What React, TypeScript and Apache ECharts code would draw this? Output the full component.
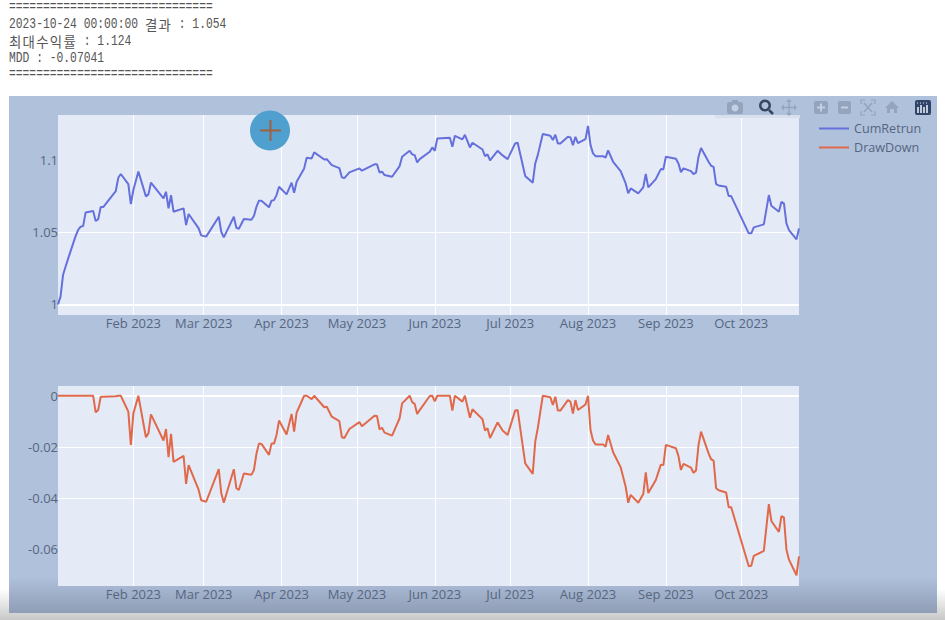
import React, { useEffect, useRef } from "react";
import * as echarts from "echarts";

const dates = ["01-02","01-03","01-04","01-05","01-06","01-09","01-10","01-11","01-12","01-13","01-16","01-17","01-18","01-19","01-20","01-25","01-26","01-27","01-30","01-31","02-01","02-03","02-06","02-07","02-08","02-13","02-14","02-15","02-16","02-17","02-21","02-22","02-23","02-27","02-28","03-02","03-07","03-08","03-09","03-13","03-14","03-15","03-17","03-20","03-21","03-22","03-23","03-24","03-27","03-28","03-29","03-30","03-31","04-03","04-05","04-06","04-07","04-10","04-11","04-13","04-14","04-18","04-19","04-21","04-24","04-25","04-26","04-28","05-02","05-03","05-08","05-09","05-10","05-11","05-12","05-15","05-18","05-19","05-22","05-23","05-24","05-25","05-26","05-30","05-31","06-01","06-02","06-07","06-08","06-09","06-12","06-13","06-15","06-16","06-20","06-21","06-22","06-23","06-26","06-28","06-30","07-03","07-04","07-07","07-10","07-11","07-12","07-14","07-17","07-18","07-19","07-20","07-21","07-24","07-25","07-26","07-27","07-28","07-31","08-01","08-02","08-03","08-04","08-07","08-08","08-09","08-11","08-14","08-16","08-17","08-18","08-21","08-23","08-24","08-25","08-28","08-30","08-31","09-01","09-05","09-06","09-07","09-08","09-11","09-12","09-13","09-14","09-15","09-18","09-19","09-20","09-21","09-22","09-25","09-26","09-27","10-04","10-05","10-06","10-10","10-12","10-13","10-16","10-17","10-18","10-19","10-20","10-23","10-24"];

const cumReturn = [1.0,1.0053,1.0203,1.026,1.0315,1.0473,1.0515,1.0538,1.0542,1.0637,1.0646,1.0577,1.059,1.0674,1.0674,1.0785,1.0877,1.0903,1.0833,1.0695,1.0792,1.0921,1.0748,1.0762,1.0843,1.0734,1.078,1.0665,1.0757,1.0642,1.0665,1.0549,1.0626,1.0526,1.0478,1.0469,1.0607,1.0503,1.0464,1.0607,1.0531,1.0524,1.0591,1.0586,1.0612,1.0676,1.0718,1.0718,1.0672,1.0718,1.0722,1.0757,1.0815,1.0762,1.0843,1.0773,1.0849,1.0942,1.1016,1.1011,1.1053,1.1004,1.1006,1.0965,1.0944,1.088,1.0875,1.0914,1.0942,1.0926,1.097,1.097,1.0914,1.0919,1.0896,1.0884,1.0958,1.1023,1.1064,1.1039,1.1034,1.0983,1.1006,1.1057,1.1087,1.1064,1.115,1.1154,1.1092,1.1168,1.1143,1.1175,1.1087,1.112,1.1073,1.1027,1.1039,1.0997,1.1064,1.1032,1.1006,1.1115,1.112,1.0889,1.0843,1.0976,1.1034,1.118,1.1168,1.1138,1.1175,1.1115,1.1115,1.1161,1.1157,1.1103,1.1161,1.1117,1.1145,1.1237,1.1103,1.1046,1.1027,1.1027,1.1016,1.1067,1.0988,1.0923,1.0838,1.0769,1.0803,1.0769,1.081,1.0903,1.081,1.0868,1.0937,1.0935,1.1023,1.1009,1.0976,1.0916,1.0942,1.0923,1.0903,1.0912,1.1023,1.1083,1.0988,1.096,1.0953,1.0833,1.0824,1.0815,1.075,1.075,1.0492,1.0492,1.0533,1.0554,1.0757,1.0683,1.0642,1.0709,1.07,1.0561,1.0515,1.045,1.0526];

const drawDown = [0,0,0,0,0,0,0,0,0,0,0,-0.0065,-0.0056,-0.0004,-0.0004,-0.0002,0,0,-0.0062,-0.0192,-0.0069,0,-0.0162,-0.0147,-0.0073,-0.0175,-0.013,-0.024,-0.0149,-0.0258,-0.0235,-0.0344,-0.0271,-0.0368,-0.0408,-0.0414,-0.0287,-0.038,-0.0418,-0.0287,-0.0361,-0.0368,-0.0304,-0.0309,-0.029,-0.0227,-0.0187,-0.0188,-0.0231,-0.0187,-0.0187,-0.0153,-0.0097,-0.0151,-0.0071,-0.014,-0.0066,0,0,-0.0013,0,-0.0045,-0.0043,-0.0082,-0.0099,-0.0162,-0.0165,-0.013,-0.0103,-0.0119,-0.0078,-0.0079,-0.0131,-0.0125,-0.0144,-0.0156,-0.0088,-0.003,0,-0.0025,-0.0032,-0.0071,-0.0056,-0.0001,0,-0.0022,0,0,-0.0058,0,-0.0023,0,-0.0086,-0.0053,-0.0092,-0.0136,-0.0127,-0.0165,-0.0104,-0.0136,-0.0153,-0.0058,-0.0056,-0.0264,-0.0305,-0.0179,-0.0127,0,-0.0006,-0.0036,-0.0004,-0.0058,-0.0058,-0.0017,-0.0023,-0.007,-0.0017,-0.0056,-0.0034,0,-0.0134,-0.0175,-0.019,-0.019,-0.0199,-0.0153,-0.0221,-0.0279,-0.0355,-0.0418,-0.0387,-0.0418,-0.0384,-0.0299,-0.038,-0.0329,-0.0269,-0.0271,-0.0192,-0.0205,-0.0235,-0.029,-0.0266,-0.0281,-0.0301,-0.0292,-0.0192,-0.014,-0.0225,-0.0248,-0.0253,-0.0361,-0.0369,-0.0378,-0.0435,-0.0435,-0.0666,-0.0664,-0.0625,-0.0606,-0.0423,-0.0489,-0.0532,-0.047,-0.0475,-0.0601,-0.064,-0.0701,-0.0627];

const tickMonths = ["02-01","03-01","04-01","05-01","06-01","07-01","08-01","09-01","10-01"];
const tickLabels = ["Feb 2023","Mar 2023","Apr 2023","May 2023","Jun 2023","Jul 2023","Aug 2023","Sep 2023","Oct 2023"];
const returnTicks = [1, 1.05, 1.1];
const returnTickLabels = ["1", "1.05", "1.1"];
const drawDownTicks = [0, -0.02, -0.04, -0.06];
const drawDownTickLabels = ["0", "-0.02", "-0.04", "-0.06"];
const seriesNames = ["CumRetrun", "DrawDown"];

const ts = (md: string) => new Date(`2023-${md}T00:00:00`).getTime();
const tickValues = tickMonths.map(ts);

const BLUE = "#6570dc";
const ORANGE = "#e0694b";
const TEXT = "#56667f";
const ICON = "#94a4bd";
const ICON_DARK = "#37475f";
const LOG = "#555";

function mono(x: number, y: number, text: string) {
  return {
    type: "text", x, y, scaleY: 1.3, z: 5, silent: true,
    style: { text, verticalAlign: "middle", fill: LOG, font: '11.33px "Liberation Mono"' },
  };
}
function hangul(x: number, y: number, text: string) {
  return [...text].map((ch, i) => ({
    type: "text", x: x + i * 13.6, y, z: 5, silent: true,
    style: { text: ch, verticalAlign: "middle", fill: LOG, font: '13.4px "Noto Sans CJK KR"' },
  }));
}

function xAxis(gridIndex: number) {
  return {
    type: "time", gridIndex, min: ts("01-02"), max: ts("10-24"),
    splitNumber: 10, minInterval: 28 * 86400000, maxInterval: 31 * 86400000,
    axisLine: { show: false },
    axisTick: { show: false },
    splitLine: { show: true, showMinLine: false, showMaxLine: false, lineStyle: { color: "#fff", width: 1 } },
    axisLabel: {
      color: TEXT, fontFamily: "Open Sans", fontSize: 13, margin: 1,
      hideOverlap: false, showMinLabel: false, showMaxLabel: false,
      formatter: (v: number) => tickLabels[tickValues.indexOf(v)] ?? "",
    },
  };
}

function yAxis(gridIndex: number, min: number, max: number, ticks: number[], labels: string[]) {
  return {
    type: "value", gridIndex, min, max,
    axisLine: { show: false },
    axisTick: { show: false, customValues: ticks },
    splitLine: { show: true, showMinLine: false, showMaxLine: false, lineStyle: { color: "#fff", width: 1 } },
    axisLabel: {
      customValues: ticks, color: TEXT, fontFamily: "Open Sans", fontSize: 13, margin: 0,
      formatter: (v: number) => labels[ticks.findIndex((t) => Math.abs(t - v) < 1e-9)] ?? "",
    },
  };
}

function baseLine(axisValue: number) {
  return {
    silent: true, symbol: "none", z: 1, label: { show: false },
    lineStyle: { color: "#fff", width: 2, type: "solid" },
    data: [{ yAxis: axisValue }],
  };
}

const I = (o: any) => ({ z: 50, silent: true, ...o });

const toolbar = [
  I({ type: "rect", shape: { x: 715, y: 115, width: 85, height: 3 }, style: { fill: "#d8e0ee" }, z: 40 }),
  I({ type: "rect", shape: { x: 727, y: 102, width: 16, height: 12, r: 2 }, style: { fill: ICON } }),
  I({ type: "rect", shape: { x: 732, y: 100, width: 6, height: 3 }, style: { fill: ICON } }),
  I({ type: "circle", shape: { cx: 735, cy: 108, r: 3.5 }, style: { fill: "#c3cfe3" } }),
  I({ type: "ring", shape: { cx: 765, cy: 105.5, r: 6, r0: 3.5 }, style: { fill: ICON_DARK } }),
  I({ type: "line", shape: { x1: 769, y1: 110, x2: 773, y2: 114 }, style: { stroke: ICON_DARK, lineWidth: 2.5 } }),
  I({ type: "line", shape: { x1: 789, y1: 100, x2: 789, y2: 115 }, style: { stroke: ICON, lineWidth: 1.5 } }),
  I({ type: "line", shape: { x1: 782, y1: 107.5, x2: 796, y2: 107.5 }, style: { stroke: ICON, lineWidth: 1.5 } }),
  I({ type: "polygon", shape: { points: [[786, 102], [789, 99], [792, 102]] }, style: { fill: ICON } }),
  I({ type: "polygon", shape: { points: [[786, 113], [789, 116], [792, 113]] }, style: { fill: ICON } }),
  I({ type: "polygon", shape: { points: [[784, 104.5], [781, 107.5], [784, 110.5]] }, style: { fill: ICON } }),
  I({ type: "polygon", shape: { points: [[794, 104.5], [797, 107.5], [794, 110.5]] }, style: { fill: ICON } }),
  I({ type: "rect", shape: { x: 814, y: 101, width: 14, height: 13, r: 2 }, style: { fill: ICON } }),
  I({ type: "line", shape: { x1: 817, y1: 107.5, x2: 825, y2: 107.5 }, style: { stroke: "#c3cfe3", lineWidth: 2 } }),
  I({ type: "line", shape: { x1: 821, y1: 103.5, x2: 821, y2: 111.5 }, style: { stroke: "#c3cfe3", lineWidth: 2 } }),
  I({ type: "rect", shape: { x: 838, y: 101, width: 13, height: 13, r: 2 }, style: { fill: ICON } }),
  I({ type: "line", shape: { x1: 841, y1: 107.5, x2: 848, y2: 107.5 }, style: { stroke: "#c3cfe3", lineWidth: 2 } }),
  I({ type: "polyline", shape: { points: [[861, 104], [861, 100], [865, 100]] }, style: { stroke: ICON, fill: "none", lineWidth: 1.2 } }),
  I({ type: "polyline", shape: { points: [[871, 100], [875, 100], [875, 104]] }, style: { stroke: ICON, fill: "none", lineWidth: 1.2 } }),
  I({ type: "polyline", shape: { points: [[861, 111], [861, 115], [865, 115]] }, style: { stroke: ICON, fill: "none", lineWidth: 1.2 } }),
  I({ type: "polyline", shape: { points: [[871, 115], [875, 115], [875, 111]] }, style: { stroke: ICON, fill: "none", lineWidth: 1.2 } }),
  I({ type: "line", shape: { x1: 864, y1: 103, x2: 872, y2: 112 }, style: { stroke: ICON, lineWidth: 1.5 } }),
  I({ type: "line", shape: { x1: 872, y1: 103, x2: 864, y2: 112 }, style: { stroke: ICON, lineWidth: 1.5 } }),
  I({ type: "polygon", shape: { points: [[892, 101], [899, 108], [897, 108], [897, 113], [894, 113], [894, 109], [890, 109], [890, 113], [887, 113], [887, 108], [885, 108]] }, style: { fill: ICON } }),
  I({ type: "rect", shape: { x: 915, y: 100, width: 16, height: 15, r: 2 }, style: { fill: "#2f4468" } }),
  ...[918, 921, 924, 927].map((x, i) =>
    I({ type: "line", shape: { x1: x, y1: i % 2 ? 105 : 107, x2: x, y2: 113 }, style: { stroke: "#e8edf5", lineWidth: 1.6 }, z: 51 })
  ),
  I({ type: "line", shape: { x1: 917, y1: 103, x2: 929, y2: 103 }, style: { stroke: "#e8edf5", lineWidth: 1, lineDash: [1, 2] }, z: 51 }),
];

export default function App() {
  const ref = useRef<HTMLDivElement>(null);
  useEffect(() => {
    document.body.style.margin = "0";
    const chart = echarts.init(ref.current!, null, { renderer: "svg" });
    const points = (vals: number[]) => dates.map((d, i) => [ts(d), vals[i]]);
    chart.setOption({
      animation: false,
      backgroundColor: "#fff",
      grid: [
        { left: 58, width: 741, top: 115, height: 200, show: true, backgroundColor: "#e5ebf6", borderWidth: 0 },
        { left: 58, width: 741, top: 386, height: 200, show: true, backgroundColor: "#e5ebf6", borderWidth: 0 },
      ],
      xAxis: [xAxis(0), xAxis(1)],
      yAxis: [
        yAxis(0, 0.9926, 1.1312, returnTicks, returnTickLabels),
        yAxis(1, -0.0743, 0.0038, drawDownTicks, drawDownTickLabels),
      ],
      legend: {
        orient: "vertical", left: 814, top: 117, itemWidth: 30, itemHeight: 2, itemGap: 6,
        textStyle: { color: TEXT, fontFamily: "Open Sans", fontSize: 12.6 },
        data: seriesNames.map((name) => ({ name, icon: "rect" })),
      },
      series: [
        {
          name: seriesNames[0], type: "line", xAxisIndex: 0, yAxisIndex: 0, data: points(cumReturn), z: 3,
          showSymbol: false, lineStyle: { color: BLUE, width: 2 }, itemStyle: { color: BLUE },
          markLine: baseLine(returnTicks[0]),
        },
        {
          name: seriesNames[1], type: "line", xAxisIndex: 1, yAxisIndex: 1, data: points(drawDown), z: 3,
          showSymbol: false, lineStyle: { color: ORANGE, width: 2 }, itemStyle: { color: ORANGE },
          markLine: baseLine(drawDownTicks[0]),
        },
      ],
      graphic: [
        {
          type: "rect", z: -10, silent: true, shape: { x: 0, y: 0, width: 945, height: 620 },
          style: {
            fill: { type: "linear", x: 0, y: 0, x2: 0, y2: 1, colorStops: [
              { offset: 0, color: "#ffffff" }, { offset: 0.95, color: "#ffffff" }, { offset: 1, color: "#c8c8c8" },
            ] },
          },
        },
        {
          type: "rect", z: -5, silent: true, shape: { x: 9, y: 96, width: 928, height: 517 },
          style: {
            fill: { type: "linear", x: 0, y: 0, x2: 0, y2: 1, colorStops: [
              { offset: 0, color: "#b0c1dc" }, { offset: 0.93, color: "#b0c1dc" }, { offset: 1, color: "#8f9db5" },
            ] },
          },
        },
        mono(9, 7, "=============================="),
        mono(9, 24, "2023-10-24 00:00:00"),
        ...hangul(145, 24, "결과"),
        mono(172, 24, " : 1.054"),
        ...hangul(9, 41, "최대수익률"),
        mono(77, 41, " : 1.124"),
        mono(9, 58, "MDD : -0.07041"),
        mono(9, 74, "=============================="),
        ...toolbar,
        I({ type: "circle", shape: { cx: 270, cy: 130.5, r: 20 }, style: { fill: "#4fa0cf" }, z: 60 }),
        I({ type: "line", shape: { x1: 260, y1: 130.5, x2: 281, y2: 130.5 }, style: { stroke: "#a3603f", lineWidth: 2 }, z: 61 }),
        I({ type: "line", shape: { x1: 270.5, y1: 120, x2: 270.5, y2: 141 }, style: { stroke: "#a3603f", lineWidth: 2 }, z: 61 }),
      ],
    });
    return () => chart.dispose();
  }, []);
  return <div ref={ref} style={{ width: 945, height: 620, position: "absolute", left: 0, top: 0 }} />;
}
